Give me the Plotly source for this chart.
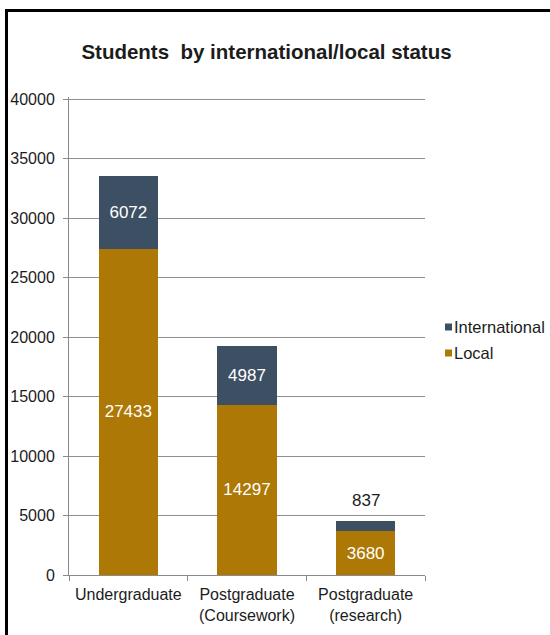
import plotly.graph_objects as go

categories = ["Undergraduate", "Postgraduate<br>(Coursework)", "Postgraduate<br>(research)"]
local = [27433, 14297, 3680]
international = [6072, 4987, 837]
y_ticks = [0, 5000, 10000, 15000, 20000, 25000, 30000, 35000, 40000]
y_tick_text = [str(v) for v in y_ticks]

LOCAL_COLOR = "#AD7805"
INTL_COLOR = "#3D4F63"
TEXT_COLOR = "#1c1c1c"
AXIS_COLOR = "#8a8a8a"
FONT = "Liberation Sans, Arial, sans-serif"

W, H = 550, 635
ml, mr, mt, mb = 69, 125, 97, 60
pw, ph = W - ml - mr, H - mt - mb
# a little headroom above 40000 so its gridline is kept
y_max = 40000 * ph / 476

fig = go.Figure()
fig.add_trace(go.Bar(
    x=categories, y=local, name="Local",
    marker=dict(color=LOCAL_COLOR, line=dict(width=0)),
    text=[str(v) for v in local], textposition="inside",
    insidetextanchor="middle",
    insidetextfont=dict(color="white", size=17, family=FONT),
    width=0.5, showlegend=False,
))
# the small research segment carries its label above the stack
intl_pos = ["inside", "inside", "none"]
fig.add_trace(go.Bar(
    x=categories, y=international, name="International",
    marker=dict(color=INTL_COLOR, line=dict(width=0)),
    text=[str(v) for v in international],
    textposition=intl_pos,
    insidetextanchor="middle",
    insidetextfont=dict(color="white", size=17, family=FONT),
    width=0.5, showlegend=False,
))

annotations = []
for cat, lo, it, pos in zip(categories, local, international, intl_pos):
    if pos == "none":
        annotations.append(dict(
            x=cat, y=lo + it, xref="x", yref="y", text=str(it),
            showarrow=False, yanchor="bottom", yshift=9,
            font=dict(size=17, family=FONT, color=TEXT_COLOR),
        ))

def px_x(x):
    return (x - ml) / pw

def px_y(y):
    return (H - mb - y) / ph

# legend: small colour squares with labels to the right of the plot
legend_items = [("International", INTL_COLOR, 327), ("Local", LOCAL_COLOR, 353)]
shapes = []
for name, color, yc in legend_items:
    shapes.append(dict(
        type="rect", xref="paper", yref="paper",
        x0=px_x(445), x1=px_x(452), y0=px_y(yc + 3.5), y1=px_y(yc - 3.5),
        line=dict(width=0), fillcolor=color,
    ))
    annotations.append(dict(
        x=px_x(452), y=px_y(yc), xref="paper", yref="paper",
        text=name, showarrow=False, xanchor="left", yanchor="middle",
        font=dict(size=16.5, family=FONT, color=TEXT_COLOR),
    ))

# outer frame
shapes.append(dict(
    type="rect", xref="paper", yref="paper",
    x0=px_x(6.5), x1=px_x(W + 20), y0=px_y(H + 20), y1=px_y(10.5),
    line=dict(color="black", width=3), fillcolor="rgba(0,0,0,0)",
    layer="above",
))

fig.update_layout(
    width=W, height=H,
    margin=dict(l=ml, r=mr, t=mt, b=mb, pad=0, autoexpand=False),
    barmode="stack",
    plot_bgcolor="white", paper_bgcolor="white",
    font=dict(family=FONT, size=15, color=TEXT_COLOR),
    title=dict(
        text="<b>Students  by international/local status</b>",
        font=dict(size=20.5, family=FONT, color=TEXT_COLOR),
        x=266.5 / W, xref="container", xanchor="center",
        y=1 - 52 / H, yref="container", yanchor="middle",
    ),
    showlegend=False,
    xaxis=dict(
        showline=True, linecolor=AXIS_COLOR, linewidth=1,
        ticks="outside", tickson="boundaries", ticklen=5, tickcolor=AXIS_COLOR,
        ticklabelstandoff=5,
        tickfont=dict(size=16, family=FONT, color=TEXT_COLOR),
        showgrid=False,
    ),
    yaxis=dict(
        range=[0, y_max], tickvals=y_ticks, ticktext=y_tick_text,
        showline=True, linecolor=AXIS_COLOR, linewidth=1,
        ticks="outside", ticklen=5, tickcolor=AXIS_COLOR,
        ticklabelstandoff=5,
        showgrid=True, gridcolor="#8f8f8f", gridwidth=1,
        zeroline=False,
        tickfont=dict(size=16, family=FONT, color=TEXT_COLOR),
    ),
    shapes=shapes,
    annotations=annotations,
)

fig.write_html("out.html")
